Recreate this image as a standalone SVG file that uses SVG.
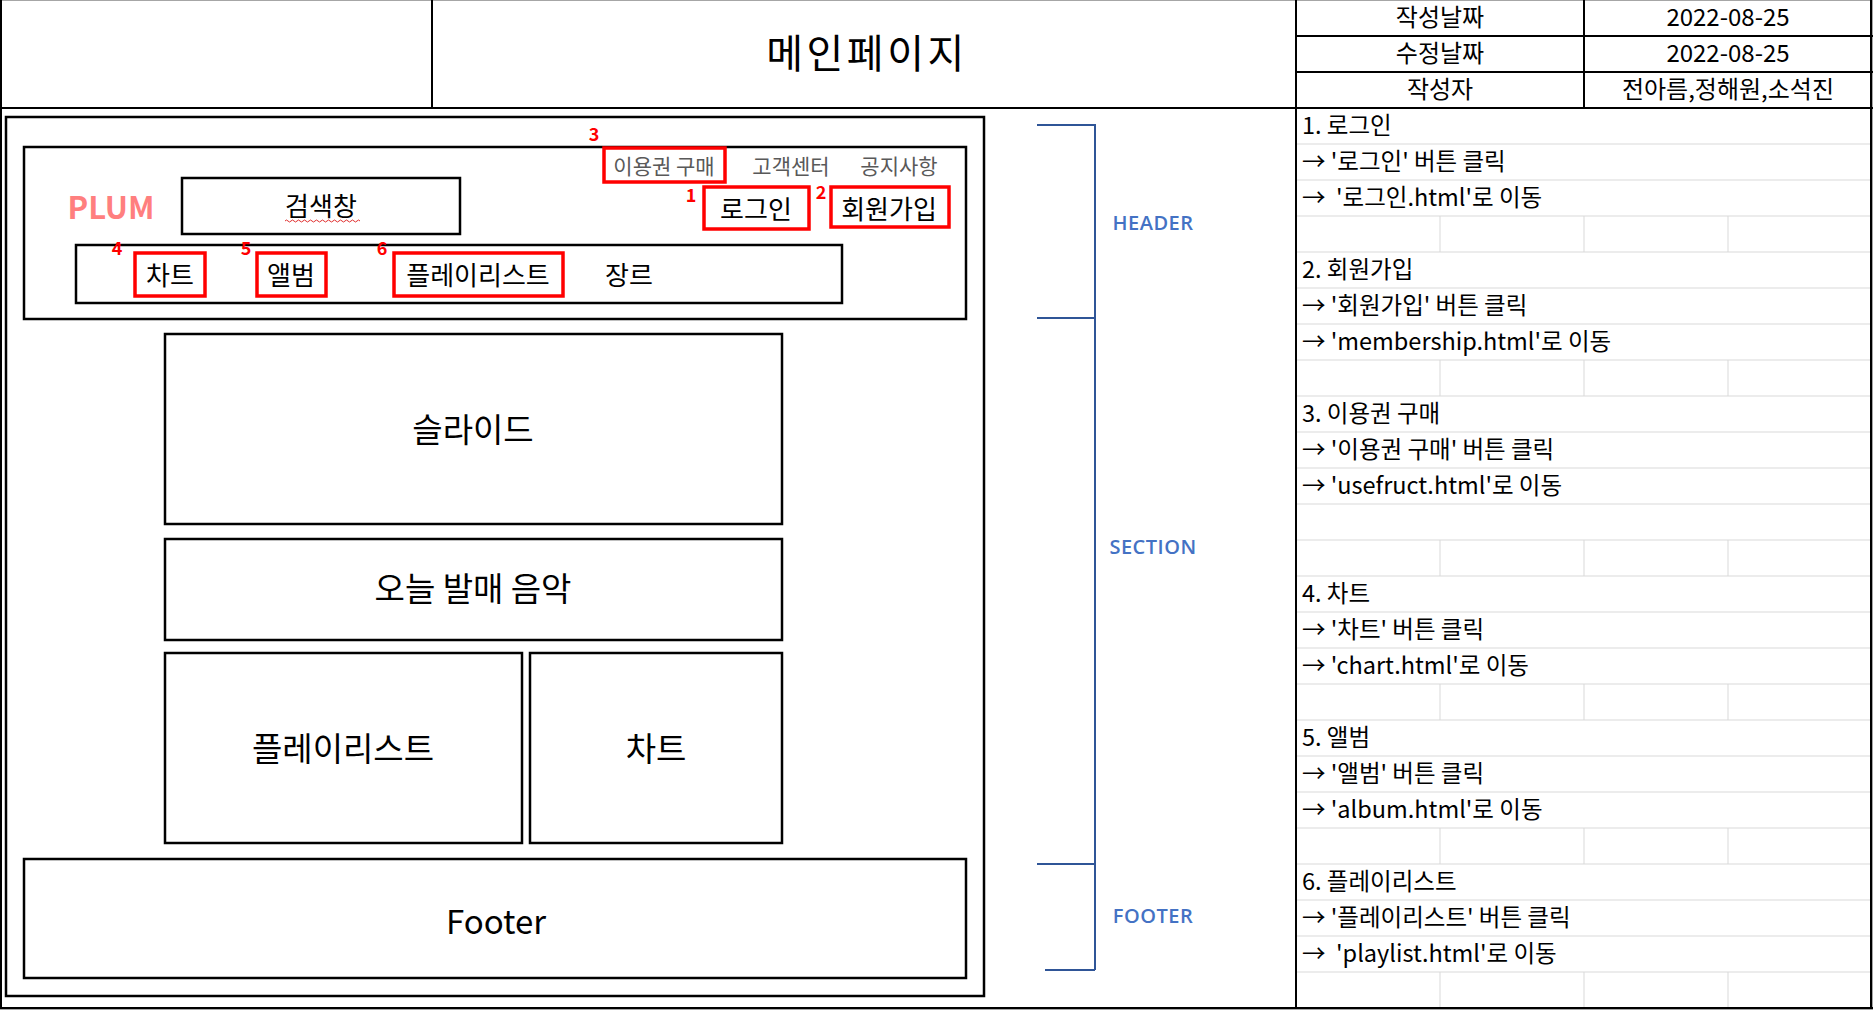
<svg xmlns="http://www.w3.org/2000/svg" width="1873" height="1010" viewBox="0 0 1873 1010">
<style>
  text { font-family: "Noto Sans CJK KR", "Noto Sans", sans-serif; dominant-baseline: central; }
  .c { text-anchor: middle; }
  .box { fill: #fff; stroke: #000; stroke-width: 2.5; }
  .red { fill: none; stroke: #ff0000; stroke-width: 3.5; }
  .num { fill: #ff0000; font-weight: bold; font-size: 18px; text-anchor: middle; }
  .grid { stroke: #d9d9d9; stroke-width: 1; }
  .tbl { stroke: #000; stroke-width: 2; fill: none; }
  .lst { font-size: 23.5px; fill: #000; white-space: pre; }
  .hdr { font-size: 24px; fill: #000; text-anchor: middle; }
  .nav { font-size: 26px; fill: #000; text-anchor: middle; }
  .big { font-size: 33px; fill: #000; text-anchor: middle; }
  .lnk { font-size: 21px; fill: #595959; text-anchor: middle; white-space: pre; }
  .brk { stroke: #2f5597; stroke-width: 2; fill: none; }
  .lbl { font-family: "Open Sans", "Liberation Sans", sans-serif; font-size: 20px; font-weight: 600; letter-spacing: 0.5px; fill: #4472c4; text-anchor: middle; }
</style>
<rect x="0" y="0" width="1873" height="1010" fill="#fff"/>

<!-- sheet grid (right list) -->
<g id="list-grid">
  <line class="grid" x1="1296" y1="144" x2="1873" y2="144"/>
  <line class="grid" x1="1296" y1="180" x2="1873" y2="180"/>
  <line class="grid" x1="1296" y1="216" x2="1873" y2="216"/>
  <line class="grid" x1="1296" y1="252" x2="1873" y2="252"/>
  <line class="grid" x1="1296" y1="288" x2="1873" y2="288"/>
  <line class="grid" x1="1296" y1="324" x2="1873" y2="324"/>
  <line class="grid" x1="1296" y1="360" x2="1873" y2="360"/>
  <line class="grid" x1="1296" y1="396" x2="1873" y2="396"/>
  <line class="grid" x1="1296" y1="432" x2="1873" y2="432"/>
  <line class="grid" x1="1296" y1="468" x2="1873" y2="468"/>
  <line class="grid" x1="1296" y1="504" x2="1873" y2="504"/>
  <line class="grid" x1="1296" y1="540" x2="1873" y2="540"/>
  <line class="grid" x1="1296" y1="576" x2="1873" y2="576"/>
  <line class="grid" x1="1296" y1="612" x2="1873" y2="612"/>
  <line class="grid" x1="1296" y1="648" x2="1873" y2="648"/>
  <line class="grid" x1="1296" y1="684" x2="1873" y2="684"/>
  <line class="grid" x1="1296" y1="720" x2="1873" y2="720"/>
  <line class="grid" x1="1296" y1="756" x2="1873" y2="756"/>
  <line class="grid" x1="1296" y1="792" x2="1873" y2="792"/>
  <line class="grid" x1="1296" y1="828" x2="1873" y2="828"/>
  <line class="grid" x1="1296" y1="864" x2="1873" y2="864"/>
  <line class="grid" x1="1296" y1="900" x2="1873" y2="900"/>
  <line class="grid" x1="1296" y1="936" x2="1873" y2="936"/>
  <line class="grid" x1="1296" y1="972" x2="1873" y2="972"/>
  <path class="grid" d="M1440 216V252M1584 216V252M1728 216V252
    M1440 360V396M1584 360V396M1728 360V396
    M1440 540V576M1584 540V576M1728 540V576
    M1440 684V720M1584 684V720M1728 684V720
    M1440 828V864M1584 828V864M1728 828V864
    M1440 972V1008M1584 972V1008M1728 972V1008"/>
</g>

<!-- frame and header table -->
<g id="sheet-frame">
  <rect x="0.5" y="0.5" width="1872" height="1009" fill="none" stroke="#a6a6a6" stroke-width="1"/>
  <line class="tbl" x1="1" y1="0" x2="1" y2="1008"/>
  <line class="tbl" x1="0" y1="108" x2="1873" y2="108" stroke-width="2.5"/>
  <line class="tbl" x1="432" y1="0" x2="432" y2="108"/>
  <line class="tbl" x1="1296" y1="0" x2="1296" y2="1008"/>
  <line class="tbl" x1="1584" y1="0" x2="1584" y2="108"/>
  <line class="tbl" x1="1296" y1="36" x2="1873" y2="36"/>
  <line class="tbl" x1="1296" y1="72" x2="1873" y2="72"/>
  <line class="tbl" x1="1871" y1="0" x2="1871" y2="1008" stroke-width="2.5"/>
  <line class="tbl" x1="0" y1="1008" x2="992" y2="1008" stroke-width="1.5"/>
  <line class="tbl" x1="992" y1="1008" x2="1873" y2="1008" stroke-width="2.5"/>
</g>

<g id="title">
  <text x="867" y="51" class="c" font-size="40" letter-spacing="3.5" fill="#000">메인페이지</text>
</g>

<g id="meta-table">
  <text class="hdr" x="1440" y="15.5">작성날짜</text>
  <text class="hdr" x="1728" y="15.5">2022-08-25</text>
  <text class="hdr" x="1440" y="51.5">수정날짜</text>
  <text class="hdr" x="1728" y="51.5">2022-08-25</text>
  <text class="hdr" x="1440" y="87">작성자</text>
  <text class="hdr" x="1728" y="87">전아름,정해원,소석진</text>
</g>

<g id="description-list">
  <text class="lst" x="1302" y="124">1. 로그인</text>
  <text class="lst" x="1302" y="160">→ '로그인' 버튼 클릭</text>
  <text class="lst" x="1302" y="196">→  '로그인.html'로 이동</text>
  <text class="lst" x="1302" y="268">2. 회원가입</text>
  <text class="lst" x="1302" y="304">→ '회원가입' 버튼 클릭</text>
  <text class="lst" x="1302" y="340">→ 'membership.html'로 이동</text>
  <text class="lst" x="1302" y="412">3. 이용권 구매</text>
  <text class="lst" x="1302" y="448">→ '이용권 구매' 버튼 클릭</text>
  <text class="lst" x="1302" y="484">→ 'usefruct.html'로 이동</text>
  <text class="lst" x="1302" y="592">4. 차트</text>
  <text class="lst" x="1302" y="628">→ '차트' 버튼 클릭</text>
  <text class="lst" x="1302" y="664">→ 'chart.html'로 이동</text>
  <text class="lst" x="1302" y="736">5. 앨범</text>
  <text class="lst" x="1302" y="772">→ '앨범' 버튼 클릭</text>
  <text class="lst" x="1302" y="808">→ 'album.html'로 이동</text>
  <text class="lst" x="1302" y="880">6. 플레이리스트</text>
  <text class="lst" x="1302" y="916">→ '플레이리스트' 버튼 클릭</text>
  <text class="lst" x="1302" y="952">→  'playlist.html'로 이동</text>
</g>

<!-- wireframe -->
<g id="page-frame">
  <rect class="box" x="6" y="117" width="978" height="879" stroke-width="3"/>
</g>

<g id="header">
  <rect class="box" x="24" y="147" width="942" height="172"/>
  <text x="111" y="205" class="c" font-size="31" font-weight="bold" fill="#ff7f7f">PLUM</text>
</g>

<g id="search">
  <rect class="box" x="182" y="178" width="278" height="56"/>
  <text class="nav" x="321" y="204">검색창</text>
  <path d="M285 221 q1.5 -2 3 0 t3 0 t3 0 t3 0 t3 0 t3 0 t3 0 t3 0 t3 0 t3 0 t3 0 t3 0 t3 0 t3 0 t3 0 t3 0 t3 0 t3 0 t3 0 t3 0 t3 0 t3 0 t3 0 t3 0 t3 0" fill="none" stroke="#e03030" stroke-width="1"/>
</g>

<g id="top-links">
  <text class="lnk" x="664" y="165">이용권 구매</text>
  <text class="lnk" x="791" y="165">고객센터</text>
  <text class="lnk" x="899" y="165">공지사항</text>
</g>

<g id="btn-purchase">
  <rect class="red" x="604" y="148" width="121" height="34"/>
  <text class="num" x="594" y="133">3</text>
</g>

<g id="btn-login">
  <rect class="red" x="704" y="187" width="105" height="42"/>
  <text class="nav" x="756" y="207">로그인</text>
  <text class="num" x="691" y="194">1</text>
</g>

<g id="btn-join">
  <rect class="red" x="831" y="187" width="118" height="40"/>
  <text class="nav" x="889" y="207">회원가입</text>
  <text class="num" x="821" y="191">2</text>
</g>

<g id="nav">
  <rect class="box" x="76" y="245" width="766" height="58"/>
  <text class="nav" x="629" y="273">장르</text>
</g>

<g id="nav-chart">
  <rect class="red" x="135" y="253" width="70" height="43"/>
  <text class="nav" x="170" y="273">차트</text>
  <text class="num" x="117" y="247">4</text>
</g>

<g id="nav-album">
  <rect class="red" x="257" y="253" width="69" height="43"/>
  <text class="nav" x="291" y="273">앨범</text>
  <text class="num" x="246" y="247">5</text>
</g>

<g id="nav-playlist">
  <rect class="red" x="394" y="253" width="169" height="43"/>
  <text class="nav" x="478" y="273">플레이리스트</text>
  <text class="num" x="382" y="247">6</text>
</g>

<g id="slide">
  <rect class="box" x="165" y="334" width="617" height="190"/>
  <text class="big" x="473" y="428">슬라이드</text>
</g>

<g id="today-music">
  <rect class="box" x="165" y="539" width="617" height="101"/>
  <text class="big" x="473" y="587">오늘 발매 음악</text>
</g>

<g id="playlist">
  <rect class="box" x="165" y="653" width="357" height="190"/>
  <text class="big" x="343" y="747">플레이리스트</text>
</g>

<g id="chart">
  <rect class="box" x="530" y="653" width="252" height="190"/>
  <text class="big" x="656" y="747">차트</text>
</g>

<g id="footer">
  <rect class="box" x="24" y="859" width="942" height="119"/>
  <text class="big" x="496" y="920" font-size="28">Footer</text>
</g>

<g id="connectors">
  <path class="brk" d="M1037 125H1095V970M1037 318H1095M1037 864H1095M1045 970H1095"/>
</g>

<g id="bracket-labels">
  <text class="lbl" x="1153" y="222">HEADER</text>
  <text class="lbl" x="1153" y="546">SECTION</text>
  <text class="lbl" x="1153" y="915">FOOTER</text>
</g>
</svg>
